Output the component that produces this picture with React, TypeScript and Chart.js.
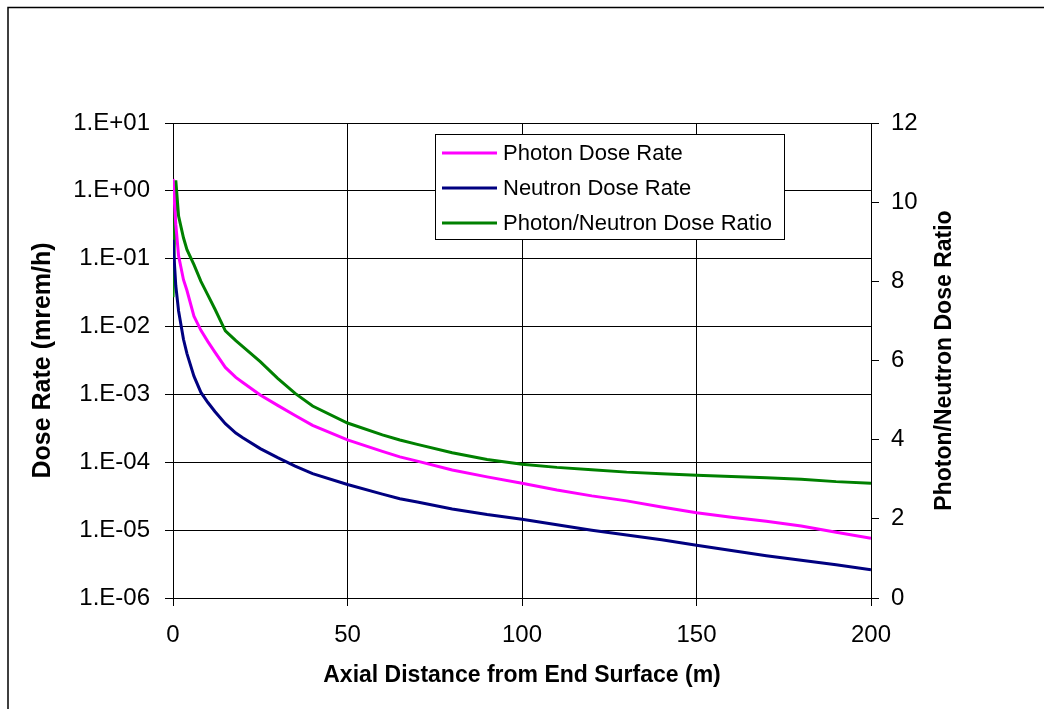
import React, { useEffect, useRef } from "react";
import { Chart, registerables } from "chart.js";

Chart.register(...registerables);

// Axial distance from end surface (m)
const distances = [0, 0.8, 1.6, 3, 4, 6, 8, 10, 12, 15, 18, 20, 25, 30, 35, 40, 50, 60, 65, 70, 80, 90, 100, 110, 120, 130, 140, 150, 160, 170, 180, 190, 200];
// Photon dose rate (mrem/h)
const photonRate = [1.5, 0.32, 0.11, 0.049, 0.034, 0.0142, 0.0088, 0.006, 0.0042, 0.0025, 0.00178, 0.0015, 0.00098, 0.00069, 0.00049, 0.00035, 0.000214, 0.000145, 0.00012, 0.000104, 7.7e-5, 6.1e-5, 4.9e-5, 3.9e-5, 3.2e-5, 2.7e-5, 2.2e-5, 1.8e-5, 1.55e-5, 1.35e-5, 1.15e-5, 9.3e-6, 7.6e-6];
// Neutron dose rate (mrem/h)
const neutronRate = [0.19, 0.04, 0.017, 0.0065, 0.004, 0.00186, 0.00107, 0.00076, 0.00056, 0.00037, 0.00027, 0.00023, 0.000159, 0.000117, 8.8e-5, 6.8e-5, 4.7e-5, 3.4e-5, 2.9e-5, 2.6e-5, 2.05e-5, 1.7e-5, 1.45e-5, 1.2e-5, 1.0e-5, 8.5e-6, 7.2e-6, 6.0e-6, 5.0e-6, 4.2e-6, 3.6e-6, 3.1e-6, 2.6e-6];
// Photon / neutron dose ratio
const doseRatio = [7.6, 10.55, 9.65, 9.1, 8.8, 8.42, 8.0, 7.65, 7.3, 6.75, 6.5, 6.35, 5.97, 5.55, 5.17, 4.85, 4.42, 4.12, 3.99, 3.88, 3.67, 3.5, 3.38, 3.3, 3.24, 3.18, 3.14, 3.1, 3.07, 3.04, 3.0, 2.94, 2.9];

const seriesLabels = ["Photon Dose Rate", "Neutron Dose Rate", "Photon/Neutron Dose Ratio"];
const seriesColors = ["#FF00FF", "#000080", "#008000"];
const logTicks = [1e-6, 1e-5, 1e-4, 1e-3, 1e-2, 1e-1, 1e0, 1e1];

const xTitle = "Axial Distance from End Surface (m)";
const yTitle = "Dose Rate (mrem/h)";
const y2Title = "Photon/Neutron Dose Ratio";

const FONT = '"Liberation Sans", Arial, Helvetica, sans-serif';

function fmtExp(v: number): string {
  const e = Math.round(Math.log10(v));
  return "1.E" + (e < 0 ? "-" : "+") + String(Math.abs(e)).padStart(2, "0");
}

const framePlugin = {
  id: "frame",
  beforeDraw(chart: any) {
    const ctx = chart.ctx;
    ctx.save();
    ctx.fillStyle = "#fff";
    ctx.fillRect(0, 0, chart.width, chart.height);
    ctx.strokeStyle = "#000";
    ctx.lineWidth = 1.5;
    ctx.beginPath();
    ctx.moveTo(8, chart.height);
    ctx.lineTo(8, 7.5);
    ctx.lineTo(chart.width, 7.5);
    ctx.stroke();
    ctx.restore();
  },
};

const rightTitlePlugin = {
  id: "rightTitle",
  afterDraw(chart: any) {
    const ctx = chart.ctx;
    const a = chart.chartArea;
    ctx.save();
    ctx.translate(a.right + 74, (a.top + a.bottom) / 2);
    ctx.rotate(-Math.PI / 2);
    ctx.font = "bold 23px " + FONT;
    ctx.fillStyle = "#000";
    ctx.textAlign = "center";
    ctx.textBaseline = "middle";
    ctx.fillText(y2Title, 0, 0);
    ctx.restore();
  },
};

const boxLegendPlugin = {
  id: "boxLegend",
  afterDraw(chart: any) {
    const ctx = chart.ctx;
    const a = chart.chartArea;
    const left = a.left + 262;
    const top = a.top + 11;
    const w = 349;
    const h = 105;
    ctx.save();
    ctx.fillStyle = "#fff";
    ctx.fillRect(left, top, w, h);
    ctx.strokeStyle = "#000";
    ctx.lineWidth = 1;
    ctx.strokeRect(left + 0.5, top + 0.5, w, h);
    ctx.font = "22px " + FONT;
    ctx.textBaseline = "middle";
    ctx.textAlign = "left";
    chart.data.datasets.forEach((ds: any, i: number) => {
      const y = top + 19 + i * 35;
      ctx.strokeStyle = ds.borderColor;
      ctx.lineWidth = 3;
      ctx.beginPath();
      ctx.moveTo(left + 7, y);
      ctx.lineTo(left + 62, y);
      ctx.stroke();
      ctx.fillStyle = "#000";
      ctx.fillText(ds.label, left + 68, y + 1);
    });
    ctx.restore();
  },
};

export default function App() {
  const ref = useRef<HTMLCanvasElement | null>(null);

  useEffect(() => {
    document.body.style.margin = "0";
    if (!ref.current) return;
    Chart.defaults.font.family = FONT;
    Chart.defaults.color = "#000";
    const mk = (vals: number[]) => distances.map((x, i) => ({ x, y: vals[i] }));
    const chart = new Chart(ref.current, {
      type: "line",
      data: {
        datasets: [
          { label: seriesLabels[0], data: mk(photonRate), borderColor: seriesColors[0], backgroundColor: seriesColors[0], yAxisID: "y" },
          { label: seriesLabels[1], data: mk(neutronRate), borderColor: seriesColors[1], backgroundColor: seriesColors[1], yAxisID: "y" },
          { label: seriesLabels[2], data: mk(doseRatio), borderColor: seriesColors[2], backgroundColor: seriesColors[2], yAxisID: "y2" },
        ],
      },
      options: {
        responsive: false,
        animation: false,
        devicePixelRatio: 1,
        layout: { padding: { left: 20, right: 0, top: 123, bottom: 0 } },
        elements: {
          point: { radius: 0, hoverRadius: 0 },
          line: { borderWidth: 3, tension: 0, fill: false },
        },
        plugins: { legend: { display: false }, tooltip: { enabled: false } },
        scales: {
          x: {
            type: "linear",
            min: 0,
            max: 200,
            afterFit: (s: any) => { s.height = 111; },
            ticks: { stepSize: 50, font: { size: 24 }, color: "#000", padding: 15, maxRotation: 0 },
            grid: { color: "#000", lineWidth: 1, tickLength: 8, drawTicks: true },
            border: { color: "#000", width: 1 },
            title: { display: true, text: xTitle, font: { size: 23, weight: "bold" }, color: "#000", padding: { top: 0, bottom: 20 } },
          },
          y: {
            type: "logarithmic",
            position: "left",
            min: 1e-6,
            max: 1e1,
            afterFit: (s: any) => { s.width = 153; },
            afterBuildTicks: (s: any) => { s.ticks = logTicks.map((v) => ({ value: v })); },
            ticks: { font: { size: 24 }, color: "#000", padding: 15, callback: (v: any) => fmtExp(Number(v)) },
            grid: { color: "#000", lineWidth: 1, tickLength: 8, drawTicks: true },
            border: { color: "#000", width: 1 },
            title: { display: true, text: yTitle, font: { size: 25, weight: "bold" }, color: "#000", padding: { top: 8, bottom: 0 } },
          },
          y2: {
            type: "linear",
            position: "right",
            min: 0,
            max: 12,
            afterFit: (s: any) => { s.width = 173; },
            ticks: { stepSize: 2, font: { size: 24 }, color: "#000", padding: 12 },
            grid: { drawOnChartArea: false, color: "#000", tickLength: 8, drawTicks: true },
            border: { color: "#000", width: 1 },
          },
        },
      },
      plugins: [framePlugin, rightTitlePlugin, boxLegendPlugin],
    } as any);
    return () => chart.destroy();
  }, []);

  return <canvas ref={ref} width={1044} height={709} style={{ display: "block" }} />;
}
